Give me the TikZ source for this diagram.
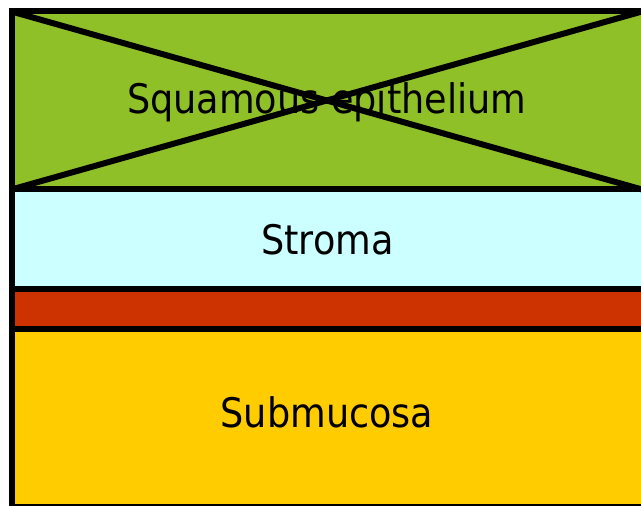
\documentclass[tikz,border=0pt]{standalone}
\usepackage{fontspec}
\setmainfont{DejaVu Sans Condensed}
\definecolor{epigreen}{RGB}{144,192,40}
\definecolor{stromacyan}{RGB}{204,255,255}
\definecolor{laminared}{RGB}{204,51,0}
\definecolor{submucyellow}{RGB}{255,204,0}
\tikzset{
  border/.style={draw=black, line width=6pt},
  layerlabel/.style={anchor=base, inner sep=0pt, font=\fontsize{40.7}{44}\selectfont, text=black}
}
\begin{document}
\begin{tikzpicture}[x=1pt,y=1pt]
  \useasboundingbox (0,0) rectangle (641,506);
  \fill[white] (0,0) rectangle (641,506);
  \clip (0,0) rectangle (641,506);
  % corners of the tissue block and the layer boundaries
  \coordinate (tl) at (11.5,494.5);
  \coordinate (tr) at (642,494.5);
  \coordinate (el) at (11.5,316.5);
  \coordinate (er) at (642,316.5);
  \coordinate (sl) at (11.5,217.3);
  \coordinate (sr) at (642,217.3);
  \coordinate (ml) at (11.5,177.3);
  \coordinate (mr) at (642,177.3);
  \coordinate (bl) at (11.5,-1.5);
  \coordinate (br) at (642,-1.5);
  % layers
  \fill[epigreen] (tl) rectangle (er);
  \fill[stromacyan] (el) rectangle (sr);
  \fill[laminared] (sl) rectangle (mr);
  \fill[submucyellow] (ml) rectangle (br);
  % labels
  \node[layerlabel] (epi) at (326.75,392) {Squamous epithelium};
  \node[layerlabel] (stroma) at (327.5,251) {Stroma};
  \node[layerlabel] (sub) at (327,78) {Submucosa};
  % outline (open on the right) and boundaries
  \draw[border] ([xshift=4pt]tr) -- (tl) -- (bl) -- ([xshift=4pt]br);
  \draw[border] (el) -- ([xshift=4pt]er);
  \draw[border] (sl) -- ([xshift=4pt]sr);
  \draw[border] (ml) -- ([xshift=4pt]mr);
  % crossed-out epithelium
  \draw[border] (tl) -- (er);
  \draw[border] (el) -- (tr);
\end{tikzpicture}
\end{document}
